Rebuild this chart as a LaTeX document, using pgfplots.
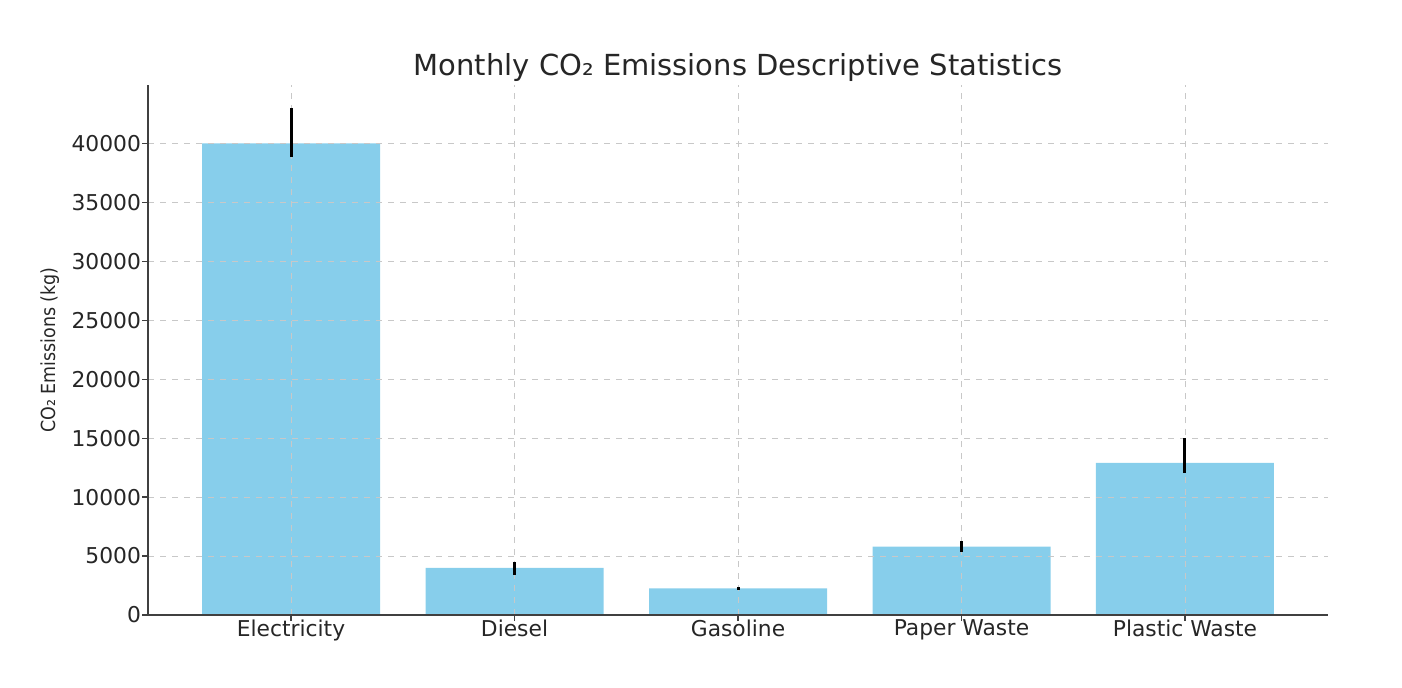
\documentclass[border=0pt]{standalone}
\usepackage{fontspec}
\setmainfont{DejaVu Sans}
\newfontfamily\condfont{DejaVu Sans Condensed}
\usepackage{pgfplots}
\pgfplotsset{compat=1.18}
\definecolor{skyblue}{RGB}{135,206,235}
\definecolor{gridgray}{RGB}{200,200,200}
\begin{document}
\begin{tikzpicture}
\begin{axis}[
    at={(74pt,36pt)}, anchor=south west,
    scale only axis,
    width=590pt, height=265pt,
    xmin=-0.64, xmax=4.64,
    ymin=0, ymax=44940,
    axis lines*=left,
    axis line style={draw=black!75, line width=0.6pt},
    set layers,
    xtick={0,1,2,3,4},
    xticklabels={Electricity, Diesel, Gasoline, Paper Waste, Plastic Waste},
    ytick={0,5000,10000,15000,20000,25000,30000,35000,40000},
    scaled y ticks=false,
    /pgf/number format/assume math mode=true,
    /pgf/number format/1000 sep={},
    tick label style={font=\fontsize{10.9}{12}\selectfont, text=black!85},
    xticklabel style={yshift=4pt},
    yticklabel style={xshift=3pt},
    tick align=outside,
    major tick length=3pt,
    tick style={black!75, line width=0.6pt},
    xmajorgrids, ymajorgrids,
    grid style={dashed, gridgray, line width=0.4pt},
    title={Monthly CO₂ Emissions Descriptive Statistics},
    title style={font=\fontsize{14.5}{16}\selectfont, text=black!85, yshift=-8pt},
    ylabel={\condfont CO₂ Emissions (kg)},
    ylabel style={font=\fontsize{9.7}{11}\selectfont, text=black!85, yshift=-1pt},
]
\addplot[on layer=axis background, ybar, bar width=89pt, fill=skyblue, draw=none] coordinates {
    (0,40000) (1,4000) (2,2250) (3,5800) (4,12900)
};
\addplot[draw=none, mark=none,
    error bars/.cd, y dir=both, y explicit, error mark=none,
    error bar style={line width=1.5pt, black, solid},
] coordinates {
    (0,40000) += (0,2970) -= (0,1190)
    (1,4000) += (0,490) -= (0,610)
    (2,2250) += (0,120) -= (0,130)
    (3,5800) += (0,470) -= (0,460)
    (4,12900) += (0,2100) -= (0,870)
};
\end{axis}
\path (0,0) rectangle (701pt,343.5pt);
\end{tikzpicture}
\end{document}
